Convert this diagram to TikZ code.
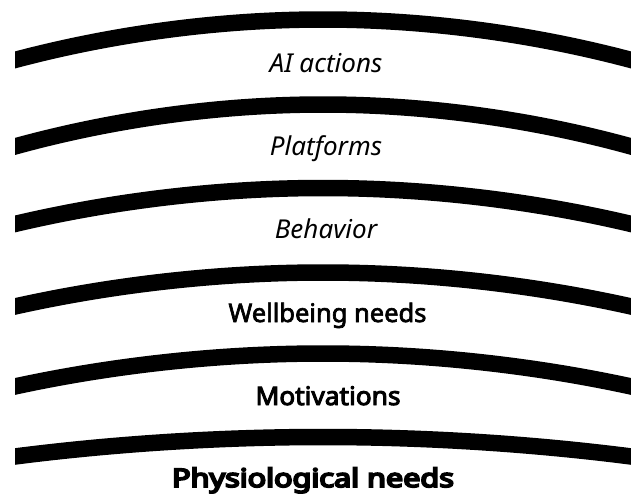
\documentclass[tikz,border=0pt]{standalone}
\usepackage{fontspec}
\setmainfont{Noto Sans}
\newfontfamily\fsemi{Noto Sans}[FakeBold=2.6]
\newfontfamily\fbold{Noto Sans}[FakeBold=3.8]
\newfontfamily\fblack{Noto Sans}[FakeBold=7]
\begin{document}
\begin{tikzpicture}[x=1pt,y=-1pt,
  band/.style={line width=16.5pt, line cap=butt},
  lbl/.style={anchor=base, inner sep=0pt},
  ital/.style={lbl, font=\fontsize{26}{30}\selectfont\itshape},
  heavy/.style={lbl, font=\fontsize{25.5}{30}\selectfont}]
\useasboundingbox (0,0) rectangle (631,493);
\fill[white] (0,0) rectangle (631,493);
\begin{scope}
\clip (15,-50) rectangle (631,550);
\foreach \yc/\sg in {19.5/40.5, 104.5/42, 188/36, 272.5/34, 353.5/33, 437/19.5}{
  \draw[band] (-10,{\yc+\sg*1.169}) parabola bend (323,\yc) (656,{\yc+\sg*1.169});
}
\end{scope}
\node[ital] (a) at (326,72) {AI actions};
\node[ital] (b) at (326,155) {Platforms};
\node[ital] (c) at (326,238) {Behavior};
\node[heavy] (d) at (327.5,322) {\fsemi Wellbeing needs};
\node[heavy] (e) at (328,405) {\fbold\scalebox{1.03}[1]{Motivations}};
\node[heavy] (f) at (313,487) {\fblack\scalebox{1.2}[1]{Physiological needs}};
\end{tikzpicture}
\end{document}
